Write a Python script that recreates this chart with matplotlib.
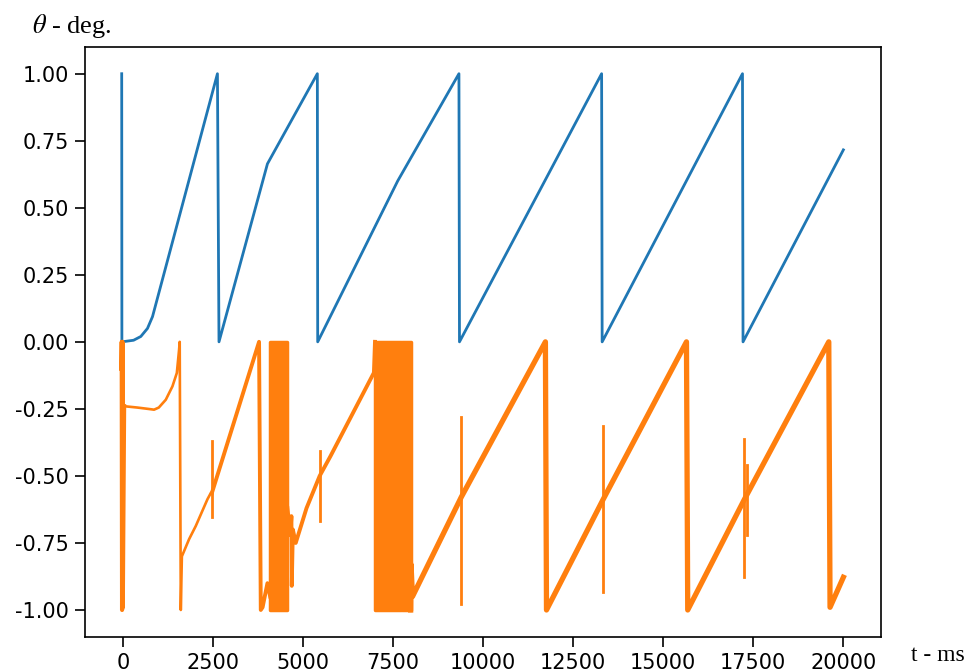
import numpy as np
import matplotlib
matplotlib.use("Agg")
import matplotlib.pyplot as plt

plt.rcParams['axes.unicode_minus'] = False
plt.rcParams['mathtext.fontset'] = 'stix'

# blue trace: theta of first joint (sawtooth 0..1)
blue_t = [-30, -25, 300, 500, 685, 825, 2627, 2670, 4015, 5400, 5410, 7630, 9330, 9345,
          13290, 13305, 17200, 17215, 20000]
blue_y = [1.0, 0.0, 0.006, 0.02, 0.05, 0.094, 1.0, 0.0, 0.664, 1.0, 0.0, 0.60, 1.0, 0.0,
          1.0, 0.0, 1.0, 0.0, 0.716]

# orange trace, start-up part (thin)
or0_t = [-40, -30, -20, -10, 0, 37]
or0_y = [-0.1, 0.0, -1.0, 0.0, -0.99, -0.24]
or1_t = [37, 400, 700, 868, 1000, 1193, 1378, 1500, 1562, 1580,
         1610, 1640, 1840, 2025, 2210, 2350, 2450, 2470]
or1_y = [-0.24, -0.245, -0.25, -0.253, -0.245, -0.216, -0.166,
         -0.116, -0.03, 0.0, -1.0, -0.80, -0.736, -0.687, -0.63, -0.587, -0.562, -0.565]

# orange, middle part (medium)
or2_t = [2470, 3782, 3830, 3880, 4015, 4090]
or2_y = [-0.565, 0.0, -1.0, -0.99, -0.90, -0.95]
or3_t = [4570, 4650, 4680, 4690, 4720, 4800, 5100, 5465, 5770, 6970, 7000]
or3_y = [-0.62, -0.72, -0.65, -0.91, -0.70, -0.75, -0.62, -0.50, -0.425, -0.115, 0.0]

# orange, late part (thick)
or4_t = [7990, 8000, 8040, 9395, 11730, 11760, 13335, 15645, 15680, 17255, 19595, 19630, 20000]
or4_y = [-1.0, -0.83, -0.95, -0.579, 0.0, -1.0, -0.587, 0.0, -1.0, -0.587, 0.0, -0.99, -0.878]

# short spikes: time, top, bottom
spike_t = [2470, 5465, 9395, 13335, 17255, 17330]
spike_top = [-0.37, -0.408, -0.28, -0.315, -0.364, -0.46]
spike_bot = [-0.655, -0.668, -0.978, -0.934, -0.878, -0.72]

# dense oscillation bursts (start, end), between 0 and -1
burst_start = [4090, 7000, 7755]
burst_end = [4570, 7715, 7990]

C0 = "#1f77b4"
C1 = "#ff7f0e"

fig = plt.figure(figsize=(9.65, 6.72), dpi=100)
ax = fig.add_axes([0.0886, 0.0524, 0.824, 0.8778])

ax.plot(blue_t, blue_y, color=C0, lw=2.0)

ax.plot(or0_t, or0_y, color=C1, lw=3.0)
ax.plot(or1_t, or1_y, color=C1, lw=1.9)
ax.plot(or2_t, or2_y, color=C1, lw=2.8)
ax.plot(or3_t, or3_y, color=C1, lw=2.8)
ax.plot(or4_t, or4_y, color=C1, lw=3.8)
for t, a, b in zip(spike_t, spike_top, spike_bot):
    ax.plot([t, t], [a, b], color=C1, lw=2.0)
for s, e in zip(burst_start, burst_end):
    ax.fill_between([s, e], [0, 0], [-1, -1], color=C1, lw=2.5, ec=C1)

ax.set_xlim(-1035, 21035)
ax.set_ylim(-1.1, 1.1)
ax.set_xticks(np.arange(0, 20001, 2500))
ax.set_yticks(np.arange(-1.0, 1.01, 0.25))
ax.set_yticklabels([f"{v:.2f}" for v in np.arange(-1.0, 1.01, 0.25)])
ax.tick_params(labelsize=15, length=7, width=1.2, pad=5)
for sp in ax.spines.values():
    sp.set_linewidth(1.2)

fig.text(0.033, 0.962, r"$\theta$ - deg.", fontsize=19, family="Liberation Serif", va="center")
fig.text(0.944, 0.025, "t - ms", fontsize=17, family="Liberation Serif", va="center")

fig.savefig("out.png", dpi=100)
